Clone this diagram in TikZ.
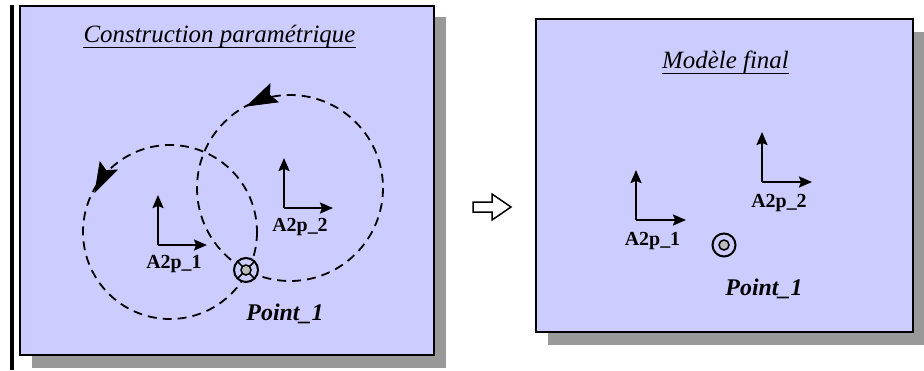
\documentclass[tikz,border=0pt]{standalone}
\usepackage{fontspec}
\setmainfont{Liberation Serif}
\usetikzlibrary{arrows.meta,calc}
\definecolor{panel}{HTML}{CCCCFF}
\definecolor{shadowgray}{HTML}{999999}
\definecolor{pointgray}{HTML}{BBBBBB}
\begin{document}
\begin{tikzpicture}[x=1bp,y=-1bp,
  panelbox/.style={draw=black,line width=2bp,fill=panel},
  axis/.style={line width=2bp,-{Stealth[length=13bp,width=11bp,inset=2bp]}},
  pathcircle/.style={line width=1.8bp,dash pattern=on 9bp off 6bp},
  pathtip/.style={fill=black,draw=black,line width=0.8bp,line join=miter},
  titletext/.style={font=\fontsize{25}{25}\selectfont\itshape,inner sep=0,anchor=base},
  framelabel/.style={font=\fontsize{20}{20}\selectfont\bfseries,inner sep=0,anchor=base},
  pointlabel/.style={font=\fontsize{24}{24}\selectfont\bfseries\itshape,inner sep=0,anchor=base},
  ring/.style={draw=black,line width=2bp},
  core/.style={draw=black,line width=1.5bp,fill=pointgray}]
\useasboundingbox (0,0) rectangle (924,370);

% ---------- left panel ----------
\fill (10,5) rectangle (14,370);
\fill[shadowgray] (32,17) rectangle (446,368);
\draw[panelbox] (20,6) rectangle (434,355);
\node[titletext] (t1) at (219.5,42) {Construction paramétrique};
\draw[line width=1bp] ($(t1.base west)+(0,5)$) -- ($(t1.base east)+(0,5)$);

% circles of the construction
\coordinate (c1) at (170,232);
\coordinate (c2) at (290,188);
\draw[pathcircle] (c1) circle[radius=87];
\draw[pathcircle] (c2) circle[radius=93];
\fill[pathtip] (95,192) -- (100,162) -- (106,170.5) -- (117,170) -- cycle;
\fill[pathtip] (247,106) -- (270,84) -- (269.5,95) -- (278,102) -- cycle;

% frames
\coordinate (o1) at (158,245);
\coordinate (y1) at (158,195);
\coordinate (x1) at (207,245);
\draw[axis] (o1) -- (y1);
\draw[axis] (o1) -- (x1);
\node[framelabel] (l1) at (174,268) {A2p\_1};

\coordinate (o2) at (284,208);
\coordinate (y2) at (284,158);
\coordinate (x2) at (333,208);
\draw[axis] (o2) -- (y2);
\draw[axis] (o2) -- (x2);
\node[framelabel] (l2) at (300,231) {A2p\_2};

% point with spokes
\coordinate (p1) at (246,270);
\draw[ring,fill=panel] (p1) circle[radius=12];
\foreach \a in {45,135,225,315}
  \draw[line width=1.5bp] ($(p1)+(\a:5)$) -- ($(p1)+(\a:12)$);
\draw[core] (p1) circle[radius=5];
\node[pointlabel] (pl1) at (285,320) {Point\_1};

% ---------- transition arrow ----------
\draw[line width=1.5bp,fill=white,line join=miter]
  (473,202) -- (492,202) -- (492,194) -- (511,207) -- (492,220) -- (492,212) -- (473,212) -- cycle;

% ---------- right panel ----------
\fill[shadowgray] (548,32) rectangle (925,345);
\draw[panelbox] (536,19) rectangle (913,332);
\node[titletext] (t2) at (725.5,68) {Modèle final};
\draw[line width=1bp] ($(t2.base west)+(0,5)$) -- ($(t2.base east)+(0,5)$);

\coordinate (o3) at (636,220);
\coordinate (y3) at (636,170);
\coordinate (x3) at (686,220);
\draw[axis] (o3) -- (y3);
\draw[axis] (o3) -- (x3);
\node[framelabel] (l3) at (652.5,245) {A2p\_1};

\coordinate (o4) at (762,182);
\coordinate (y4) at (762,132);
\coordinate (x4) at (812,182);
\draw[axis] (o4) -- (y4);
\draw[axis] (o4) -- (x4);
\node[framelabel] (l4) at (779,207) {A2p\_2};

\coordinate (p2) at (724,245);
\draw[ring] (p2) circle[radius=11.5];
\draw[core] (p2) circle[radius=5];
\node[pointlabel] (pl2) at (764,295) {Point\_1};
\end{tikzpicture}
\end{document}
